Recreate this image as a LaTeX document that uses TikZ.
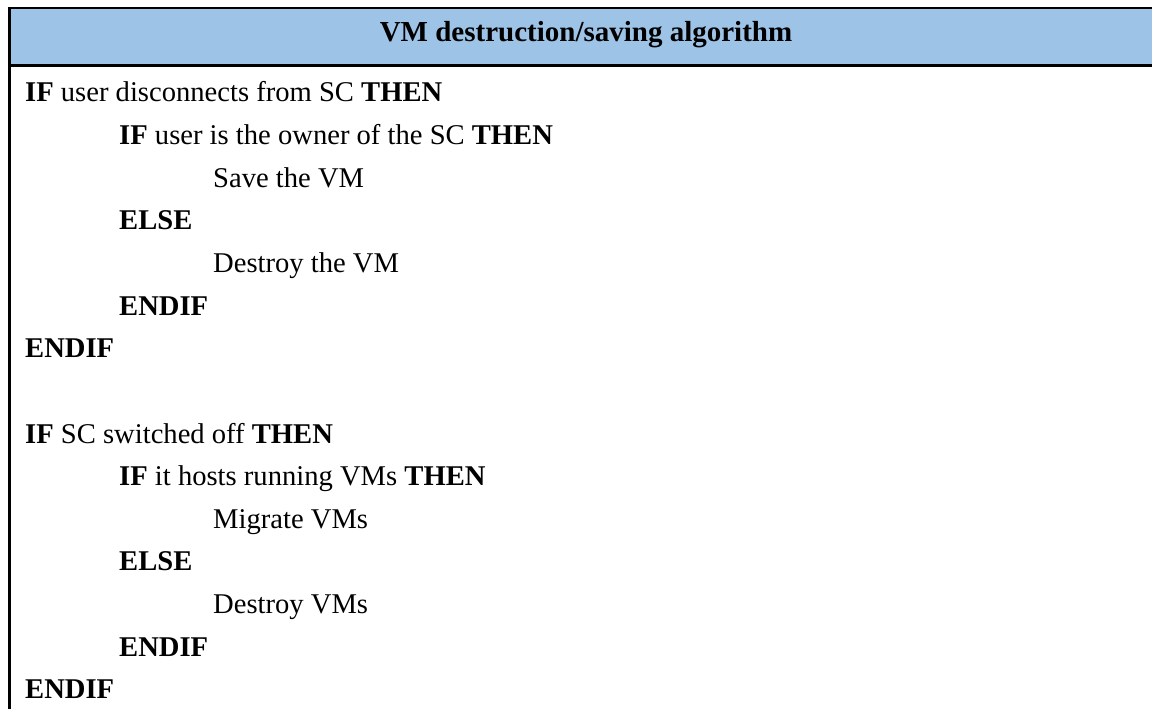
\documentclass[tikz,border=0pt]{standalone}
\usepackage{fontspec}
\setmainfont{Liberation Serif}
\definecolor{headblue}{RGB}{157,195,230}
\begin{document}
\begin{tikzpicture}[x=1pt,y=-1pt,
  rule/.style={line width=2.3pt, black},
  codeline/.style={anchor=base west, inner sep=0pt, font=\fontsize{28.6}{34}\selectfont},
  title/.style={anchor=base, inner sep=0pt, font=\fontsize{29}{34}\selectfont\bfseries}]
\useasboundingbox (0,0) rectangle (1152,709);
% header band
\fill[headblue] (9.5,8) rectangle (1152,65.5);
\draw[rule] (9.5,709) -- (9.5,8) -- (1152,8);
\draw[rule] (9.5,65.5) -- (1152,65.5);
\node[title] (head) at (586,41.6) {VM destruction/saving algorithm};
% pseudo-code, one line every 42.65 units, indent 94 per level
\def\lh{42.65}
\def\bl{101.8}
\node[codeline] (l0)  at (25, \bl+0*\lh)  {\textbf{IF} user disconnects from SC \textbf{THEN}};
\node[codeline] (l1)  at (119,\bl+1*\lh)  {\textbf{IF} user is the owner of the SC \textbf{THEN}};
\node[codeline] (l2)  at (213,\bl+2*\lh)  {Save the VM};
\node[codeline] (l3)  at (119,\bl+3*\lh)  {\textbf{ELSE}};
\node[codeline] (l4)  at (213,\bl+4*\lh)  {Destroy the VM};
\node[codeline] (l5)  at (119,\bl+5*\lh)  {\textbf{ENDIF}};
\node[codeline] (l6)  at (25, \bl+6*\lh)  {\textbf{ENDIF}};
\node[codeline] (l8)  at (25, \bl+8*\lh)  {\textbf{IF} SC switched off \textbf{THEN}};
\node[codeline] (l9)  at (119,\bl+9*\lh)  {\textbf{IF} it hosts running VMs \textbf{THEN}};
\node[codeline] (l10) at (213,\bl+10*\lh) {Migrate VMs};
\node[codeline] (l11) at (119,\bl+11*\lh) {\textbf{ELSE}};
\node[codeline] (l12) at (213,\bl+12*\lh) {Destroy VMs};
\node[codeline] (l13) at (119,\bl+13*\lh) {\textbf{ENDIF}};
\node[codeline] (l14) at (25, \bl+14*\lh) {\textbf{ENDIF}};
\end{tikzpicture}
\end{document}
